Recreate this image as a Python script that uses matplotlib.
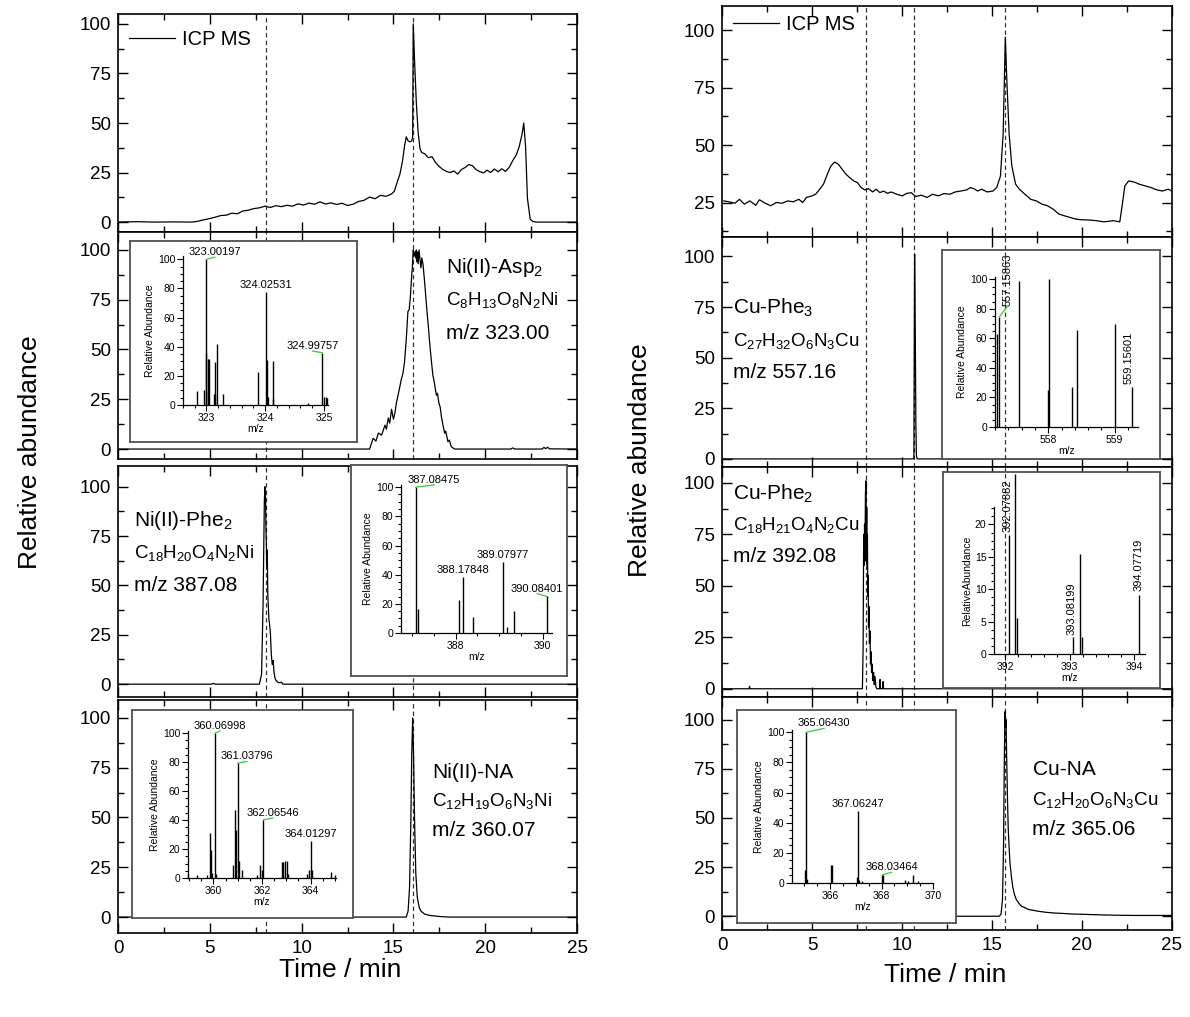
import matplotlib.pyplot as plt
import matplotlib.transforms as mtransforms
from matplotlib.ticker import MultipleLocator

plt.rcParams['font.family'] = ['Liberation Sans', 'DejaVu Sans']
plt.rcParams['mathtext.default'] = 'regular'

# ---------------- chromatograms (time / min, relative abundance) ----------------
ni_icp = [(0, 0), (1, 0.2), (2, 0), (3, 0.1), (4, 0), (4.3, 0.3), (4.6, 1.0), (5.0, 1.8), (5.3, 2.5),
          (5.6, 3.3), (5.9, 3.5), (6.2, 4.5), (6.5, 4.2), (6.8, 5.6), (7.1, 6.0), (7.4, 6.8), (7.7, 7.2),
          (8.0, 8.0), (8.3, 7.4), (8.6, 8.3), (8.9, 7.8), (9.2, 8.5), (9.5, 8.0), (9.8, 9.2), (10.1, 8.6),
          (10.4, 9.6), (10.7, 9.0), (11.0, 10.2), (11.3, 9.1), (11.6, 9.7), (11.9, 8.9), (12.2, 9.5),
          (12.5, 8.4), (12.8, 9.0), (13.1, 10.4), (13.4, 11.0), (13.7, 12.6), (14.0, 11.8), (14.3, 13.5),
          (14.6, 13.0), (14.9, 14.2), (15.05, 15.5), (15.2, 20), (15.35, 24), (15.5, 31), (15.6, 38),
          (15.7, 43), (15.8, 41), (15.9, 40.5), (16.0, 41), (16.05, 43), (16.08, 100), (16.15, 82),
          (16.25, 60), (16.35, 45), (16.45, 37), (16.55, 35), (16.7, 34.5), (16.9, 32.5), (17.1, 33),
          (17.3, 30), (17.5, 28), (17.7, 26.5), (17.9, 25.5), (18.1, 25), (18.3, 25.8), (18.5, 24.2),
          (18.7, 26.5), (18.9, 27.5), (19.1, 29), (19.3, 28.5), (19.5, 26.5), (19.7, 25.5), (19.9, 24.8),
          (20.1, 26.2), (20.3, 25), (20.5, 26.8), (20.7, 25.4), (20.9, 26.9), (21.1, 25.6), (21.3, 27.5),
          (21.5, 31), (21.7, 34), (21.85, 38), (22.0, 44), (22.1, 50), (22.2, 38), (22.3, 12),
          (22.45, 1.5), (22.6, 0.3), (22.8, 0), (23.5, 0), (25, 0)]
ni_asp2 = [(0, 0), (5, 0), (10, 0), (13.7, 0), (13.9, 5.4), (14.05, 4), (14.18, 8), (14.36, 7), (14.54, 12),
           (14.62, 10), (14.72, 15.6), (14.8, 13), (14.9, 20), (15.0, 15), (15.08, 18), (15.16, 23),
           (15.3, 29), (15.43, 35), (15.52, 38), (15.61, 44), (15.7, 55), (15.79, 69), (15.86, 70),
           (15.92, 76), (15.98, 85), (16.03, 91), (16.08, 100), (16.13, 97), (16.18, 99), (16.21, 96),
           (16.25, 100), (16.28, 94), (16.32, 99), (16.35, 93), (16.4, 100), (16.45, 95), (16.5, 91),
           (16.55, 96), (16.61, 93), (16.66, 88), (16.7, 84), (16.76, 77), (16.83, 69), (16.9, 62),
           (16.97, 54), (17.05, 46), (17.15, 37), (17.22, 34), (17.34, 27), (17.4, 28), (17.48, 23),
           (17.55, 21), (17.61, 16.5), (17.7, 12), (17.79, 8), (17.85, 9), (17.97, 3.7), (18.05, 4.5),
           (18.15, 1.2), (18.33, 0), (21.4, 0), (21.5, 0.6), (21.6, 0), (23.1, 0), (23.2, 0.8),
           (23.3, 0.2), (23.4, 0.9), (23.5, 0.1), (25, 0)]
ni_phe2 = [(0, 0), (2, 0), (5.1, 0), (5.2, 0.4), (5.3, 0), (7.7, 0), (7.82, 5), (7.9, 40), (7.97, 92),
           (8.0, 100), (8.03, 97), (8.06, 78), (8.08, 72), (8.1, 60), (8.13, 68), (8.16, 45), (8.18, 41),
           (8.22, 33), (8.27, 29), (8.3, 25.8), (8.35, 15), (8.4, 10), (8.45, 12), (8.5, 6), (8.55, 3),
           (8.6, 2), (8.7, 1), (8.8, 0.7), (8.9, 1.0), (8.98, 0), (12, 0), (25, 0)]
ni_na = [(0, 0), (15.7, 0), (15.8, 3), (15.88, 15), (15.95, 48), (16.0, 82), (16.05, 100), (16.1, 80),
         (16.15, 50), (16.22, 22), (16.3, 10), (16.4, 5), (16.5, 3), (16.7, 1.5), (17, 0.8), (17.5, 0.3),
         (18, 0), (25, 0)]

cu_icp = [(0.1, 25.7), (0.4, 25.3), (0.72, 24.7), (0.97, 26.4), (1.24, 24.3), (1.55, 25.7), (1.87, 23.8),
          (2.08, 26.2), (2.4, 24.7), (2.71, 23.6), (3.02, 25), (3.34, 24.7), (3.65, 25.7), (3.96, 25.3),
          (4.27, 26.4), (4.48, 25), (4.69, 27.2), (5.0, 27.9), (5.2, 28.6), (5.43, 30.8), (5.64, 33),
          (5.85, 37.3), (6.05, 40.9), (6.26, 42.6), (6.47, 41.6), (6.68, 39.4), (6.89, 37.3), (7.1, 35.8),
          (7.31, 34.4), (7.52, 33.7), (7.73, 31.5), (7.94, 30.5), (8.15, 31), (8.36, 29.6), (8.57, 30.8),
          (8.77, 29.3), (8.98, 30), (9.19, 29), (9.4, 29.6), (9.71, 28.6), (10.03, 27.9), (10.24, 28.9),
          (10.51, 29.3), (10.76, 27.6), (11.07, 28.2), (11.39, 27.2), (11.7, 28.6), (12.02, 27.9),
          (12.33, 28.9), (12.65, 28.6), (12.96, 29.6), (13.27, 30), (13.59, 30.5), (13.8, 31.5), (14.0, 31),
          (14.21, 30), (14.42, 30.8), (14.73, 29.6), (15.05, 30), (15.26, 31.5), (15.47, 36.5), (15.62, 55),
          (15.74, 97), (15.83, 77), (15.95, 55), (16.1, 41), (16.31, 33), (16.52, 30.8), (16.83, 28.6),
          (17.15, 26.4), (17.46, 25.7), (17.77, 24.3), (18.08, 23.6), (18.4, 22.1), (18.71, 20), (19.03, 19.2),
          (19.34, 18.5), (19.65, 17.8), (19.97, 17.5), (20.39, 17.4), (20.8, 17.1), (21.22, 16.6),
          (21.74, 17.1), (22.1, 16.6), (22.23, 23.6), (22.38, 32.2), (22.59, 34.4), (22.9, 33.9),
          (23.21, 32.9), (23.53, 32.2), (23.84, 31.5), (24.16, 30.5), (24.47, 30), (24.78, 30.8), (25, 30)]
cu_phe3 = [(0, 0), (10.6, 0), (10.66, 0.5), (10.7, 101), (10.74, 60), (10.77, 18), (10.8, 2), (10.84, 0),
           (25, 0)]
cu_phe2 = [(0, 0), (1.5, 0), (1.53, 1.2), (1.56, 0), (7.8, 0), (7.84, 20), (7.87, 75), (7.9, 60), (7.92, 80),
           (7.94, 62), (7.97, 95), (8.0, 101), (8.02, 70), (8.04, 88), (8.06, 60), (8.08, 75), (8.1, 45),
           (8.12, 55), (8.14, 30), (8.16, 40), (8.19, 22), (8.22, 28), (8.25, 12), (8.28, 18), (8.31, 8),
           (8.34, 12), (8.38, 4), (8.42, 8), (8.46, 2), (8.5, 6), (8.55, 1), (8.6, 0), (8.75, 0),
           (8.78, 4.5), (8.81, 0), (8.92, 0), (8.95, 3.5), (8.98, 0), (25, 0)]
cu_na = [(0, 0), (15.4, 0), (15.5, 1), (15.58, 8), (15.64, 35), (15.68, 75), (15.72, 104), (15.75, 96),
         (15.78, 100), (15.82, 78), (15.86, 60), (15.9, 45), (15.95, 35), (16.0, 27), (16.08, 20),
         (16.15, 15), (16.25, 11), (16.35, 8.5), (16.5, 6.5), (16.65, 5), (16.8, 4.5), (17.0, 3.5),
         (17.3, 3), (17.6, 2.5), (18.0, 2), (18.5, 1.6), (19, 1.4), (19.5, 1.1), (20, 1.0), (21, 0.7),
         (22, 0.5), (23, 0.4), (25, 0.4)]

ni_marks = [8.06, 16.05]
cu_marks = [8.0, 10.68, 15.7]

ni_names = [None,
            ['Ni(II)-Asp$_2$', 'C$_8$H$_{13}$O$_8$N$_2$Ni', 'm/z 323.00'],
            ['Ni(II)-Phe$_2$', 'C$_{18}$H$_{20}$O$_4$N$_2$Ni', 'm/z 387.08'],
            ['Ni(II)-NA', 'C$_{12}$H$_{19}$O$_6$N$_3$Ni', 'm/z 360.07']]
cu_names = [None,
            ['Cu-Phe$_3$', 'C$_{27}$H$_{32}$O$_6$N$_3$Cu', 'm/z 557.16'],
            ['Cu-Phe$_2$', 'C$_{18}$H$_{21}$O$_4$N$_2$Cu', 'm/z 392.08'],
            ['Cu-NA', 'C$_{12}$H$_{20}$O$_6$N$_3$Cu', 'm/z 365.06']]

# ---------------- mass spectra (m/z, relative abundance) ----------------
ms_asp2 = [(322.84, 9.6), (322.95, 10), (322.99, 100), (323.0, 35.5), (323.02, 31.6), (323.04, 31.6),
           (323.03, 9.6), (323.12, 7.3), (323.14, 29.7), (323.15, 7.3), (323.18, 42.1), (323.28, 7.3),
           (323.88, 22.4), (324.01, 77.3), (324.03, 30.9), (324.04, 5.3), (324.13, 3.9), (324.14, 30.2),
           (324.73, 1.1), (324.97, 35.9), (325.01, 5.3), (325.03, 5.3), (325.06, 4.8)]
ms_phe2_ni = [(387.085, 100), (387.13, 16.4), (388.09, 22.8), (388.178, 38.4), (388.4, 11),
              (389.08, 48.4), (389.19, 4.1), (389.34, 15.3), (390.084, 25.1)]
ms_na_ni = [(358.97, 2.8), (359.31, 1.8), (359.75, 1.8), (359.84, 31), (359.89, 19.5), (359.95, 3.4),
            (360.07, 100), (360.11, 2.8), (360.8, 9.2), (360.88, 47), (360.93, 33.3), (361.0, 79.3),
            (361.04, 11.5), (361.17, 5.7), (361.81, 1.8), (361.92, 9.2), (361.99, 5.7), (362.06, 40.2),
            (362.81, 10.8), (362.88, 10.8), (362.95, 11.5), (363.02, 11.5), (363.09, 2.8), (363.84, 2.8),
            (363.95, 5.7), (364.01, 25.3), (364.08, 5.7), (364.83, 4.1), (365.0, 1.8)]
ms_phe3_cu = [(557.225, 63.2), (557.265, 74.5), (557.555, 98.6), (557.99, 24.8), (558.01, 100.5),
              (558.36, 27), (558.435, 66), (559.0, 69.5), (559.255, 27)]
ms_phe2_cu = [(392.062, 18.3), (392.155, 27.8), (392.19, 5.5), (393.057, 2.6), (393.165, 15.4),
              (393.19, 2.6), (394.072, 9.1)]
ms_na_cu = [(365.03, 8.4), (365.07, 100), (365.12, 2.9), (366.04, 11.7), (366.08, 11.7), (367.03, 3.8),
            (367.07, 47.9), (367.14, 2.2), (367.23, 1.5), (368.03, 5.5), (368.06, 5.5), (368.9, 2.2),
            (369.03, 1.5), (369.23, 5.5), (369.42, 1.1)]

# peak labels: text, peak (x, y), label anchor (x, y), green leader
lab_asp2 = [('323.00197', (323.0, 100), (323.14, 101.5), True),
            ('324.02531', (324.01, 77.3), (324.02, 79), False),
            ('324.99757', (324.97, 35.9), (324.81, 37), True)]
lab_phe2_ni = [('387.08475', (387.085, 100), (387.51, 101.6), True),
               ('388.17848', (388.178, 38.4), (388.18, 40), False),
               ('389.07977', (389.08, 48.4), (389.08, 49.8), False),
               ('390.08401', (390.084, 25.1), (389.87, 27), True)]
lab_na_ni = [('360.06998', (360.07, 100), (360.27, 101.6), True),
             ('361.03796', (361.0, 79.3), (361.37, 80.5), True),
             ('362.06546', (362.06, 40.2), (362.44, 41.4), True),
             ('364.01297', (364.01, 25.3), (364.0, 27), False)]
lab_phe3_cu = [('557.15863', (557.265, 74.5), (557.39, 82), True),
               ('559.15601', (559.255, 27), (559.215, 29), False)]
lab_phe2_cu = [('392.07882', (392.062, 18.3), (392.036, 18.8), False),
               ('393.08199', (393.057, 2.6), (393.03, 2.9), False),
               ('394.07719', (394.072, 9.1), (394.06, 9.7), False)]
lab_na_cu = [('365.06430', (365.07, 100), (365.77, 102.6), True),
             ('367.06247', (367.07, 47.9), (367.06, 49.2), False),
             ('368.03464', (368.03, 5.5), (368.39, 7.1), True)]

W, H = 1190, 1017
fig = plt.figure(figsize=(W / 100, H / 100), dpi=100)


def rect(x0, y0, x1, y1):
    return [x0 / W, 1 - y1 / H, (x1 - x0) / W, (y1 - y0) / H]


def main_panel(box, ylim, series, marks, names, last, name_pos):
    ax = fig.add_axes(rect(*box))
    t, v = zip(*series)
    ax.plot(t, v, color='black', lw=0.9, label='ICP MS')
    for m in marks:
        ax.axvline(m, color='#333333', lw=0.9, ls=(0, (3.5, 2.5)), zorder=1)
    ax.set_xlim(0, 25)
    ax.set_ylim(*ylim)
    ax.xaxis.set_major_locator(MultipleLocator(5))
    ax.xaxis.set_minor_locator(MultipleLocator(2.5))
    ax.yaxis.set_major_locator(MultipleLocator(25))
    ax.yaxis.set_minor_locator(MultipleLocator(12.5))
    ax.tick_params(which='both', direction='in', top=True, right=True, width=1)
    ax.tick_params(which='major', length=7, labelsize=13.5, pad=5)
    ax.tick_params(which='minor', length=4)
    if not last:
        ax.tick_params(labelbottom=False)
    for s in ax.spines.values():
        s.set_linewidth(1.2)
    if names:
        x0, y0, dy = name_pos
        sizes = [15, 13.5, 15]
        for i, s in enumerate(names):
            ax.text(x0, y0 - i * dy, s, transform=ax.transAxes, fontsize=sizes[i],
                    ha='left', va='center')
    return ax


def inset(ax_main, box, inner, xlim, ylim, xmaj, xmin, ymaj, ymin, spec, labels,
          ylab='Relative Abundance', rot=0, over=None):
    bax = fig.add_axes(rect(*box), zorder=5)
    bax.set_xticks([])
    bax.set_yticks([])
    for s in bax.spines.values():
        s.set_edgecolor('#505050')
        s.set_linewidth(1.3)
    if over is not None:
        tr = mtransforms.blended_transform_factory(ax_main.transData, bax.transAxes)
        bax.plot([over, over], [0, 1], transform=tr, color='#333333', lw=0.9,
                 ls=(0, (3.5, 2.5)), zorder=10)
    iax = fig.add_axes(rect(*inner), zorder=6)
    iax.patch.set_alpha(0)
    iax.spines[['top', 'right']].set_visible(False)
    for s in iax.spines.values():
        s.set_linewidth(0.9)
    mz, ab = zip(*spec)
    iax.vlines(mz, 0, ab, color='black', lw=1.0, clip_on=False)
    iax.set_xlim(*xlim)
    iax.set_ylim(*ylim)
    iax.xaxis.set_major_locator(MultipleLocator(xmaj))
    iax.xaxis.set_minor_locator(MultipleLocator(xmin))
    iax.yaxis.set_major_locator(MultipleLocator(ymaj))
    iax.yaxis.set_minor_locator(MultipleLocator(ymin))
    iax.tick_params(which='both', direction='out', width=0.8)
    iax.tick_params(which='major', length=4, labelsize=7.5, pad=1.5)
    iax.tick_params(which='minor', length=2.5)
    iax.set_xlabel('m/z', fontsize=7.5, labelpad=1)
    iax.set_ylabel(ylab, fontsize=7.5, labelpad=2)
    for txt, (px, py), (lx, ly), green in labels:
        iax.text(lx, ly, txt, fontsize=8, ha='center', va='bottom', rotation=rot, clip_on=False)
        if green:
            iax.plot([px, lx], [py, ly], color='#33cc33', lw=0.9, clip_on=False)
    return iax


# left column (Ni)
lboxes = [(118, 14, 577, 232), (118, 232, 577, 459), (118, 466, 577, 697), (118, 700, 577, 933)]
lylims = [(-5, 105), (-5, 109), (-6.5, 110.5), (-8, 109)]
lseries = [ni_icp, ni_asp2, ni_phe2, ni_na]
lpos = [None, (0.715, 0.845, 0.145), (0.035, 0.765, 0.142), (0.685, 0.69, 0.125)]
lax = []
for i in range(4):
    lax.append(main_panel(lboxes[i], lylims[i], lseries[i], ni_marks, ni_names[i], i == 3, lpos[i]))

# right column (Cu)
rboxes = [(722, 6, 1172, 237), (722, 237, 1172, 467), (722, 467, 1172, 697), (722, 697, 1172, 930)]
rylims = [(10, 110.5), (-4, 109.6), (-4, 107.7), (-7, 111.5)]
rseries = [cu_icp, cu_phe3, cu_phe2, cu_na]
rpos = [None, (0.025, 0.69, 0.14), (0.025, 0.885, 0.138), (0.69, 0.69, 0.13)]
rax = []
for i in range(4):
    rax.append(main_panel(rboxes[i], rylims[i], rseries[i], cu_marks, cu_names[i], i == 3, rpos[i]))

for ax, anchor in [(lax[0], (-0.012, 1.0)), (rax[0], (-0.012, 1.03))]:
    ax.legend(loc='upper left', bbox_to_anchor=anchor, frameon=False, fontsize=14.5,
              handlelength=2.3, handletextpad=0.35, borderpad=0.3)

# insets
inset(lax[1], (130, 241, 357, 442), (183, 256, 328, 405), (322.6, 325.07), (0, 102.3),
      1, 0.2, 20, 5, ms_asp2, lab_asp2)
inset(lax[2], (351, 465, 567, 676), (401, 485, 552, 633), (386.75, 390.21), (0, 101.5),
      2, 0.5, 20, 5, ms_phe2_ni, lab_phe2_ni)
inset(lax[3], (132, 710, 353, 918), (188, 731, 336, 878), (358.95, 365.05), (0, 101.5),
      2, 0.5, 20, 5, ms_na_ni, lab_na_ni)
inset(rax[1], (942, 250, 1160, 459), (995, 277, 1138, 427), (557.2, 559.35), (0, 101.6),
      1, 0.2, 20, 5, ms_phe3_cu, lab_phe3_cu, rot=90, over=15.7)
inset(rax[2], (943, 472, 1160, 688), (994, 507, 1145, 654), (391.83, 394.165), (0, 22.7),
      1, 0.2, 5, 1.25, ms_phe2_cu, lab_phe2_cu, ylab='RelativeAbundance', rot=90, over=15.7)
inset(rax[3], (737, 710, 956, 923), (792, 730, 933, 883), (364.52, 370), (0, 101.5),
      2, 0.5, 20, 5, ms_na_cu, lab_na_cu)

fig.text(30 / W, 1 - 452 / H, 'Relative abundance', rotation=90, fontsize=19, ha='center', va='center')
fig.text(640 / W, 1 - 460 / H, 'Relative abundance', rotation=90, fontsize=19, ha='center', va='center')
fig.text(340 / W, 1 - 970 / H, 'Time / min', fontsize=19, ha='center', va='center')
fig.text(945 / W, 1 - 975 / H, 'Time / min', fontsize=19, ha='center', va='center')

fig.savefig('out.png', dpi=100)
